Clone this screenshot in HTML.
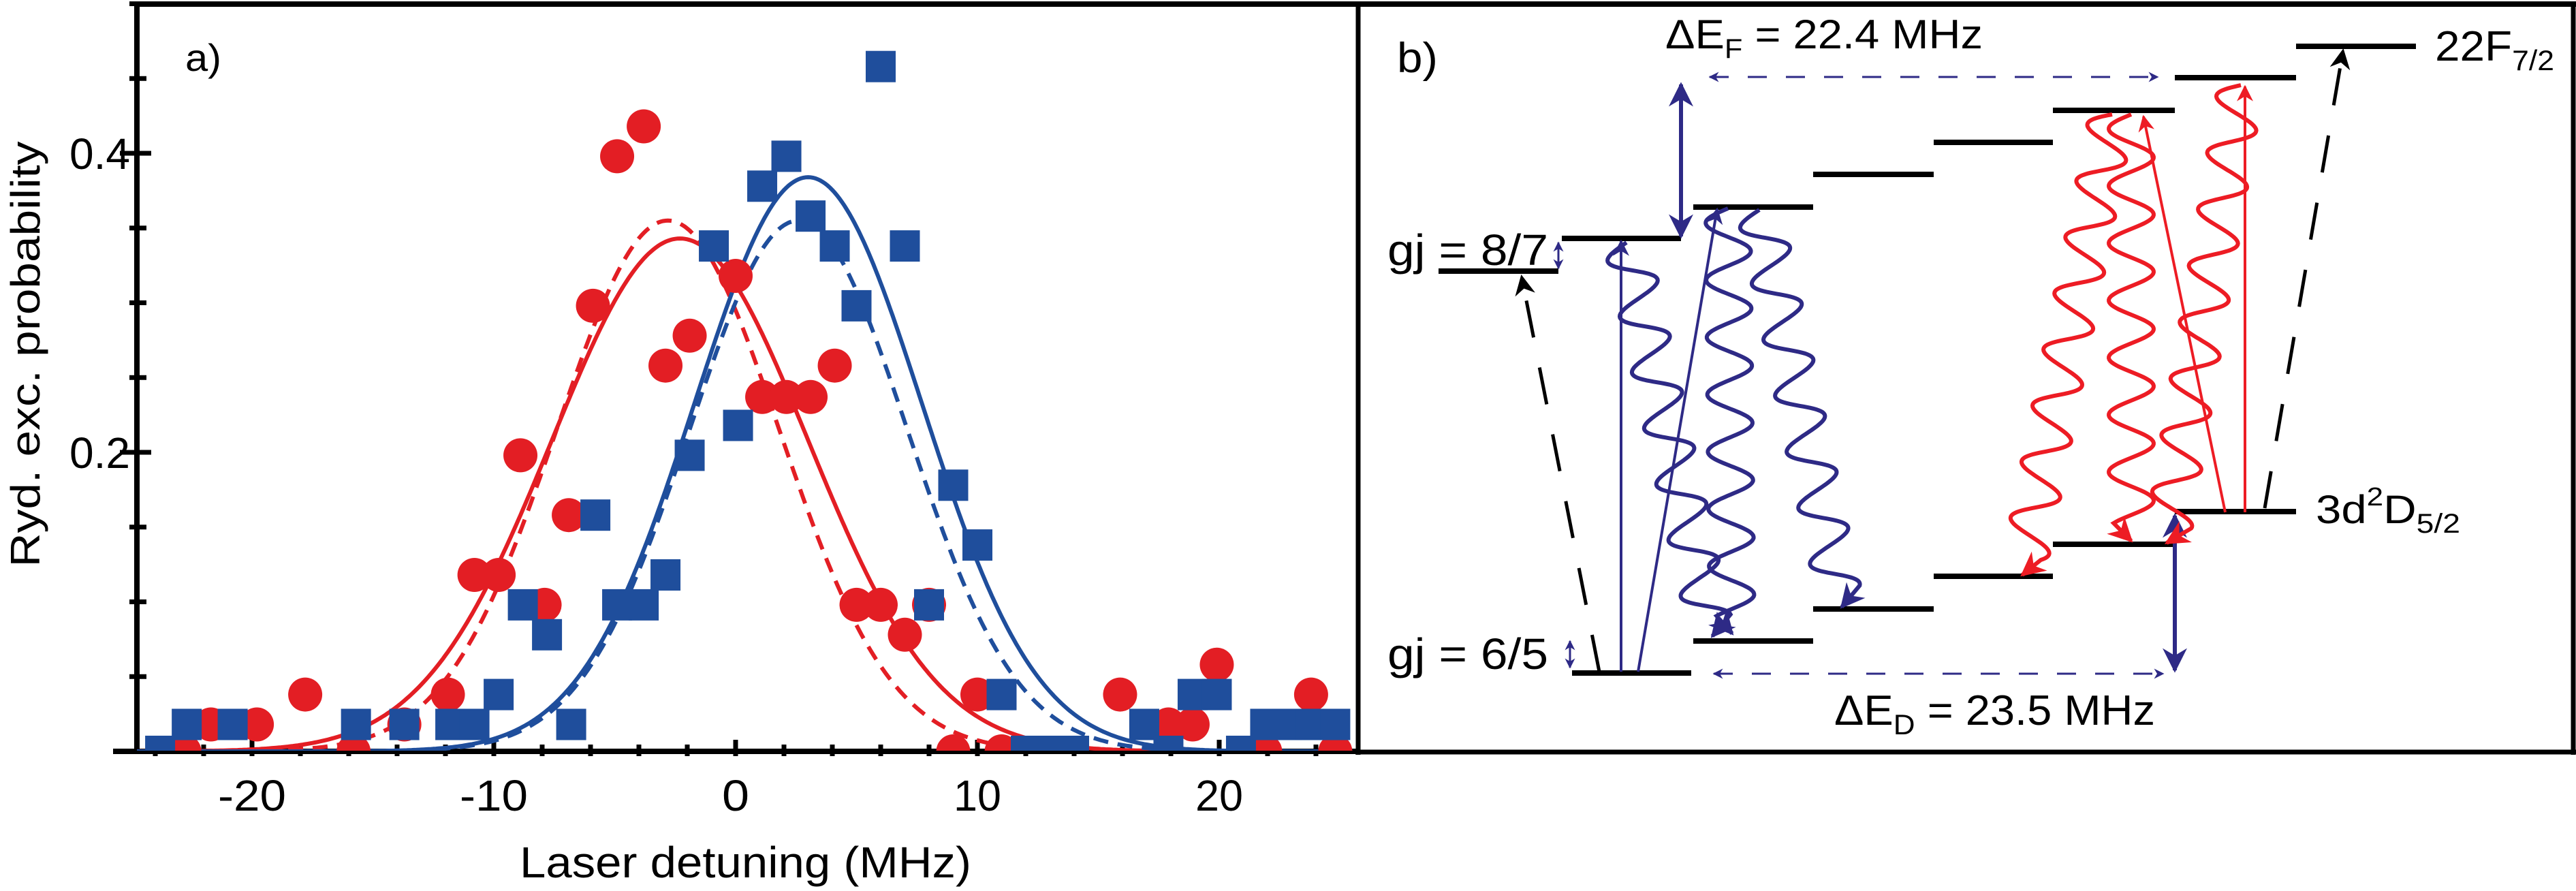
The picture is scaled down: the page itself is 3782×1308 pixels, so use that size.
<!DOCTYPE html>
<html><head><meta charset="utf-8"><style>
html,body{margin:0;padding:0;background:#fff}
svg{display:block}
text{font-family:"Liberation Sans",sans-serif;fill:#000}
</style></head><body>
<svg id="fig" width="3782" height="1308" viewBox="0 0 3782 1308" xmlns="http://www.w3.org/2000/svg">
<defs>
<marker id="ahN" viewBox="0 0 10 10" refX="9" refY="5" markerWidth="6" markerHeight="6" orient="auto-start-reverse" markerUnits="strokeWidth"><path d="M0,0 L10,5 L0,10 L3,5 Z" fill="#2e2a86"/></marker>
<marker id="ahNs" viewBox="0 0 10 10" refX="9" refY="5" markerWidth="5" markerHeight="5" orient="auto-start-reverse" markerUnits="strokeWidth"><path d="M0,0 L10,5 L0,10 L3,5 Z" fill="#2e2a86"/></marker>
<marker id="ahR" viewBox="0 0 10 10" refX="9" refY="5" markerWidth="6" markerHeight="6" orient="auto-start-reverse" markerUnits="strokeWidth"><path d="M0,0 L10,5 L0,10 L3,5 Z" fill="#ed1c24"/></marker>
<marker id="ahK" viewBox="0 0 10 10" refX="9" refY="5" markerWidth="6" markerHeight="6" orient="auto-start-reverse" markerUnits="strokeWidth"><path d="M0,0 L10,5 L0,10 L3,5 Z" fill="#000"/></marker>
<clipPath id="plotclip"><rect x="201" y="0" width="1793" height="1102"/></clipPath>
</defs>
<line x1="198" y1="6" x2="3782" y2="6" stroke="#000" stroke-width="8"/>
<line x1="1994" y1="2" x2="1994" y2="1108" stroke="#000" stroke-width="7"/>
<line x1="3778" y1="2" x2="3778" y2="1108" stroke="#000" stroke-width="7"/>
<line x1="1990" y1="1104" x2="3782" y2="1104" stroke="#000" stroke-width="7"/>
<line x1="201" y1="2" x2="201" y2="1106" stroke="#000" stroke-width="8"/>
<line x1="166" y1="1103" x2="1994" y2="1103" stroke="#000" stroke-width="8"/>
<g id="ticks"></g>
<g id="curves" clip-path="url(#plotclip)"></g>
<g id="points" clip-path="url(#plotclip)"></g>
<g id="labels">
<text x="763" y="1288" font-size="64" textLength="663" lengthAdjust="spacingAndGlyphs">Laser detuning (MHz)</text>
<text transform="translate(58,520) rotate(-90)" text-anchor="middle" font-size="60" textLength="625" lengthAdjust="spacingAndGlyphs">Ryd. exc. probability</text>
<text x="272" y="104" font-size="56" textLength="53" lengthAdjust="spacingAndGlyphs">a)</text>
</g>
<g id="diagram">
<text x="2051" y="106" font-size="62" textLength="60" lengthAdjust="spacingAndGlyphs">b)</text>
<text x="2445" y="71" font-size="60" textLength="466" lengthAdjust="spacingAndGlyphs">ΔE<tspan font-size="40" dy="14">F</tspan><tspan dy="-14"> = 22.4 MHz</tspan></text>
<text x="3575" y="89" font-size="62" textLength="175" lengthAdjust="spacingAndGlyphs">22F<tspan font-size="42" dy="14">7/2</tspan></text>
<text x="2037" y="389" font-size="64" textLength="236" lengthAdjust="spacingAndGlyphs">gj = 8/7</text>
<text x="2037" y="982" font-size="64" textLength="236" lengthAdjust="spacingAndGlyphs">gj = 6/5</text>
<text x="3400" y="768" font-size="58" textLength="212" lengthAdjust="spacingAndGlyphs">3d<tspan font-size="38" dy="-26">2</tspan><tspan dy="26">D</tspan><tspan font-size="40" dy="14">5/2</tspan></text>
<text x="2693" y="1064" font-size="62" textLength="471" lengthAdjust="spacingAndGlyphs">ΔE<tspan font-size="42" dy="14">D</tspan><tspan dy="-14"> = 23.5 MHz</tspan></text>
</g>
<script>
const xTicks = [-20, -10, 0, 10, 20];
const yTicks = [0.2, 0.4];
const redX = [-22.8,-21.7,-19.8,-17.8,-15.8,-13.7,-11.9,-10.8,-9.8,-8.9,-7.9,-6.9,-5.9,-4.9,-3.8,-2.9,-1.9,0,1.1,2.1,3.1,4.1,5.0,6.0,7.0,8.0,9.0,10.0,11.0,15.9,17.9,18.9,19.9,21.9,23.8,24.8];
const redY = [0,0.018,0.018,0.038,0,0.018,0.038,0.118,0.118,0.198,0.098,0.158,0.298,0.398,0.418,0.258,0.278,0.318,0.237,0.237,0.237,0.258,0.098,0.098,0.078,0.098,0,0.038,0,0.038,0.018,0.018,0.058,0,0.038,0];
const blueX = [-23.8,-22.7,-20.8,-15.7,-13.7,-11.8,-10.8,-9.8,-8.8,-7.8,-6.8,-5.8,-4.9,-3.8,-2.9,-1.9,-0.9,0.1,1.1,2.1,3.1,4.1,5.0,6.0,7.0,8.0,9.0,10.0,11.0,12.0,13.0,14.0,16.9,17.9,18.9,19.9,20.9,21.9,22.8,23.8,24.8];
const blueY = [0,0.018,0.018,0.018,0.018,0.018,0.018,0.038,0.098,0.078,0.018,0.158,0.098,0.098,0.118,0.198,0.338,0.218,0.378,0.398,0.358,0.338,0.298,0.458,0.338,0.098,0.178,0.138,0.038,0,0,0,0.018,0,0.038,0.038,0,0.018,0.018,0.018,0.018];
const fitCenter = [-2.3, -2.8, 3.0, 2.6];
const fitAmp = [0.343, 0.355, 0.384, 0.355];
const fitSigma = [5.3, 4.6, 4.7, 4.5];
const fitColor = ['#e31e24','#e31e24','#1f4e9c','#1f4e9c'];
const fitDash = ['none','22 14','none','22 14'];
const fitName = ['red-fit-solid','red-fit-dashed','blue-fit-solid','blue-fit-dashed'];

const NS = 'http://www.w3.org/2000/svg';
const xs = m => 1080 + m * 35.5;
const ys = p => 1103 - p * 2195;
function mk(tag, attrs, parent){const e=document.createElementNS(NS,tag);for(const k in attrs)e.setAttribute(k,attrs[k]);parent.appendChild(e);return e;}

const tickG = document.getElementById('ticks');
for (let m = -24; m <= 24; m += 2) {
  const major = m % 10 === 0;
  const t = mk('line', {x1: xs(m), x2: xs(m), y1: major ? 1086 : 1093, y2: 1110, stroke: '#000', 'stroke-width': 7}, tickG);
  
  
}
for (let i = 1; i <= 10; i++) {
  const p = i * 0.05;
  const major = yTicks.some(v => Math.abs(v - p) < 1e-6);
  const t = mk('line', {x1: major ? 176 : 190, x2: major ? 222 : 215, y1: ys(p), y2: ys(p), stroke: '#000', 'stroke-width': 7}, tickG);
  
  
}
const lab = document.getElementById('labels');
xTicks.forEach(v => {
  const t = mk('text', {x: xs(v), y: 1190, 'font-size': 64, 'text-anchor': 'middle', textLength: String(v).length * 30 + 10, lengthAdjust: 'spacingAndGlyphs'}, lab);
  t.textContent = String(v);
  
  
});
yTicks.forEach(v => {
  const t = mk('text', {x: 191, y: ys(v) + 23, 'font-size': 64, 'text-anchor': 'end', textLength: 89, lengthAdjust: 'spacingAndGlyphs'}, lab);
  t.textContent = v.toFixed(1);
  
  
});

const cg = document.getElementById('curves');
fitCenter.forEach((c, i) => {
  let d = '';
  for (let m = -25.6; m <= 25.6; m += 0.1) {
    const p = fitAmp[i] * Math.exp(-((m - c) ** 2) / (2 * fitSigma[i] ** 2));
    d += (d ? ' L' : 'M') + xs(m).toFixed(1) + ',' + ys(p).toFixed(1);
  }
  const path = mk('path', {d: d, fill: 'none', stroke: fitColor[i], 'stroke-width': 6, 'stroke-dasharray': fitDash[i]}, cg);
  
  
});

const pg = document.getElementById('points');
redX.forEach((m, i) => {
  const c = mk('ellipse', {cx: xs(m), cy: ys(redY[i]), rx: 25, ry: 25, fill: '#e31e24'}, pg);
  
  
});
blueX.forEach((m, i) => {
  const r = mk('rect', {x: xs(m) - 22, y: ys(blueY[i]) - 23, width: 44, height: 46, fill: '#1f4e9c'}, pg);
  
  
});

const dg = document.getElementById('diagram');
const levels = [[2112,2288,398],[2293,2468,350],[2486,2662,304],[2662,2839,256],[2839,3014,209],[3014,3193,162],[3193,3371,114],[3371,3547,68],
 [2308,2483,988],[2486,2662,941],[2662,2839,894],[2839,3014,846],[3014,3193,799],[3193,3371,751]];
levels.forEach(l => {
  const e = mk('line', {x1: l[0], x2: l[1], y1: l[2], y2: l[2], stroke: '#000', 'stroke-width': 8}, dg);
  
  
});
function arrow(x1,y1,x2,y2,col,w,mkr,both,dash,name){
  const a = {x1:x1,y1:y1,x2:x2,y2:y2,stroke:col,'stroke-width':w,'marker-end':'url(#'+mkr+')'};
  if (both) a['marker-start'] = 'url(#'+mkr+')';
  if (dash) a['stroke-dasharray'] = dash;
  const e = mk('line', a, dg);
  
  
}
const N = '#2e2a86', R = '#ed1c24';
arrow(2510,113,3168,113,N,3,'ahNs',true,'28 28','delta-ef-arrow');
arrow(2516,989,3176,989,N,3,'ahNs',true,'28 28','delta-ed-arrow');
arrow(2468,124,2468,347,N,6,'ahN',true,null,'f-splitting-arrow');
arrow(3193,757,3193,984,N,6,'ahN',true,null,'d-splitting-arrow');
arrow(2288,356,2288,394,N,3,'ahNs',true,null,'gj-upper-arrow');
arrow(2305,941,2305,980,N,3,'ahNs',true,null,'gj-lower-arrow');
arrow(2348,986,2234,406,'#000',5,'ahK',false,'55 45','left-dashed-arrow');
arrow(3325,746,3440,74,'#000',5,'ahK',false,'55 45','right-dashed-arrow');
arrow(2380,986,2380,354,N,4,'ahN',false,null,'navy-excitation-vertical');
arrow(2405,986,2521,307,N,4,'ahN',false,null,'navy-excitation-slanted');
arrow(3267,752,3147,171,R,4,'ahR',false,null,'red-excitation-slanted');
arrow(3296,752,3296,127,R,4,'ahR',false,null,'red-excitation-vertical');
function wave(x1,y1,x2,y2,col,mkr,name){
  const dx=x2-x1, dy=y2-y1, L=Math.hypot(dx,dy), ux=dx/L, uy=dy/L, nx=-uy, ny=ux;
  let d='';
  for (let t=0;t<=L-25;t+=2){
    const o = 33*Math.sin(2*Math.PI*t/84);
    d += (d?' L':'M')+(x1+ux*t+nx*o).toFixed(1)+','+(y1+uy*t+ny*o).toFixed(1);
  }
  d += ' L'+x2+','+y2;
  const e = mk('path',{d:d,fill:'none',stroke:col,'stroke-width':6,'marker-end':'url(#'+mkr+')'},dg);
  
  
}
wave(2388,356,2514,934,N,'ahN','navy-decay-wave-1');
wave(2537,306,2543,930,N,'ahN','navy-decay-wave-2');
wave(2583,308,2704,891,N,'ahN','navy-decay-wave-3');
wave(3101,168,2969,844,R,'ahR','red-decay-wave-1');
wave(3129,168,3129,794,R,'ahR','red-decay-wave-2');
wave(3290,125,3181,797,R,'ahR','red-decay-wave-3');
</script>
</svg>
</body></html>
